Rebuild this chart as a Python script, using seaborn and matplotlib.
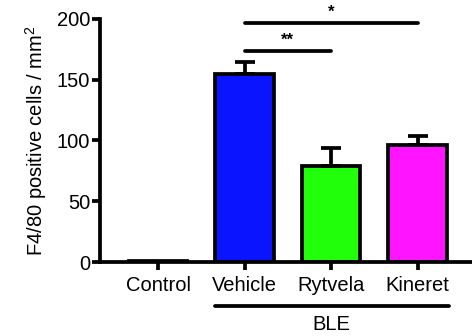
import matplotlib
matplotlib.use("Agg")
import matplotlib.pyplot as plt
import seaborn as sns
import pandas as pd
import numpy as np

groups = ["Control", "Vehicle", "Rytvela", "Kineret"]
means = [1, 155, 79, 96]
sems = [0, 10, 15, 8]
colors = ["#ffffff", "#0a14ff", "#22ff0a", "#ff14ff"]
sig_pairs = [("Vehicle", "Rytvela", 174, "**"), ("Vehicle", "Kineret", 197, "*")]
ylabel = "F4/80 positive cells / mm$^2$"
group_label = "BLE"
yticks = [0, 50, 100, 150, 200]

sns.set_style("ticks")
plt.rcParams["font.family"] = ["Liberation Sans", "DejaVu Sans"]
plt.rcParams["mathtext.fontset"] = "custom"
plt.rcParams["mathtext.rm"] = "Liberation Sans"
plt.rcParams["text.color"] = "black"
plt.rcParams["axes.labelcolor"] = "black"
plt.rcParams["xtick.color"] = "black"
plt.rcParams["ytick.color"] = "black"
plt.rcParams["axes.edgecolor"] = "black"

df = pd.DataFrame({"group": groups, "mean": means})

fig = plt.figure(figsize=(4.72, 3.36), dpi=100)
ax = fig.add_axes([0.212, 0.2202, 0.788, 0.7233])

sns.barplot(data=df, x="group", y="mean", hue="group", palette=colors,
            order=groups, errorbar=None, width=0.68, edgecolor="black",
            linewidth=2.7, saturation=1, legend=False, ax=ax)

xs = np.arange(len(groups))
ax.errorbar(xs[1:], means[1:], yerr=[np.zeros(len(groups) - 1), sems[1:]],
            fmt="none", ecolor="black", elinewidth=2.7, capsize=7, capthick=2.7,
            zorder=1)

ax.set_xlim(-0.67, 3.63)
ax.set_ylim(0, 200)
ax.set_yticks(yticks)
ax.set_xlabel("")
ax.set_ylabel(ylabel, fontsize=14.5, labelpad=6)
ax.tick_params(axis="both", labelsize=14.5, width=2.7, length=6, color="black")
ax.tick_params(axis="y", pad=1)
ax.tick_params(axis="x", pad=4)
for s in ["left", "bottom"]:
    ax.spines[s].set_linewidth(2.7)
    ax.spines[s].set_color("black")
for s in ["top", "right"]:
    ax.spines[s].set_visible(False)

for a, b, y, label in sig_pairs:
    i, j = groups.index(a), groups.index(b)
    ax.plot([i, j], [y, y], color="black", lw=2.7, clip_on=False, solid_capstyle="round")
    ax.text((i + j) / 2, y + 2, label, ha="center", va="bottom", fontsize=12,
            fontweight="bold")

# group bracket below tick labels
trans = ax.get_xaxis_transform()
ax.plot([0.66, 3.36], [-0.18, -0.18], color="black", lw=2.7, transform=trans,
        clip_on=False, solid_capstyle="round")
ax.text(2.0, -0.22, group_label, transform=trans, ha="center", va="top", fontsize=14.5)

fig.savefig("out.png", dpi=100)
